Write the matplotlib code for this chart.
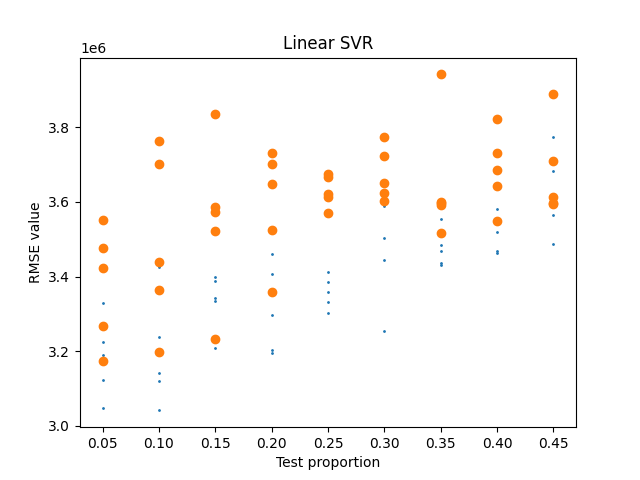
import matplotlib
matplotlib.use("Agg")
import matplotlib.pyplot as plt
import numpy as np

# test proportions
test_sizes = [0.05, 0.10, 0.15, 0.20, 0.25, 0.30, 0.35, 0.40, 0.45]

# RMSE values (x1e6), 5 runs per proportion
rmse_train = [
    [3.328, 3.224, 3.189, 3.122, 3.047],
    [3.426, 3.237, 3.141, 3.119, 3.041],
    [3.398, 3.387, 3.342, 3.335, 3.208],
    [3.460, 3.406, 3.296, 3.202, 3.196],
    [3.411, 3.385, 3.358, 3.331, 3.301],
    [3.589, 3.502, 3.443, 3.253, 3.600],
    [3.553, 3.484, 3.468, 3.435, 3.431],
    [3.580, 3.519, 3.468, 3.462, 3.548],
    [3.773, 3.682, 3.564, 3.486, 3.597],
]
rmse_test = [
    [3.551, 3.476, 3.422, 3.267, 3.174],
    [3.763, 3.701, 3.438, 3.363, 3.197],
    [3.836, 3.586, 3.572, 3.521, 3.232],
    [3.730, 3.701, 3.647, 3.524, 3.358],
    [3.674, 3.667, 3.620, 3.612, 3.571],
    [3.773, 3.722, 3.650, 3.625, 3.603],
    [3.942, 3.601, 3.592, 3.596, 3.517],
    [3.822, 3.730, 3.686, 3.642, 3.548],
    [3.889, 3.709, 3.613, 3.594, 3.597],
]

fig, ax = plt.subplots(figsize=(6.4, 4.8), dpi=100)

for x, vals in zip(test_sizes, rmse_train):
    ax.scatter([x] * len(vals), np.array(vals) * 1e6, s=1, color="C0")
for x, vals in zip(test_sizes, rmse_test):
    ax.scatter([x] * len(vals), np.array(vals) * 1e6, color="C1")

ax.set_xticks(test_sizes)
ax.set_title("Linear SVR")
ax.set_xlabel("Test proportion")
ax.set_ylabel("RMSE value")

fig.savefig("out.png")
